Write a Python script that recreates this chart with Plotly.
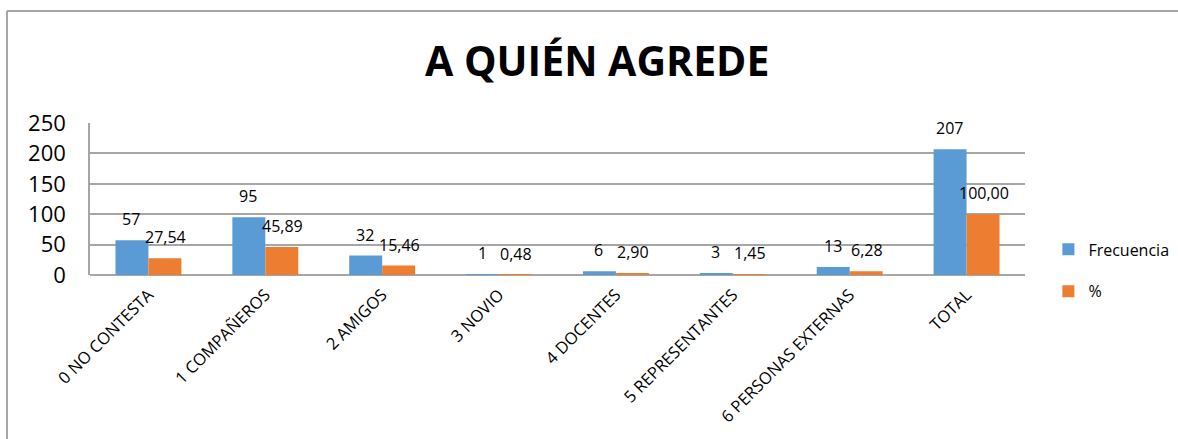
import plotly.graph_objects as go

categories = ["0 NO CONTESTA", "1 COMPAÑEROS", "2 AMIGOS", "3 NOVIO", "4 DOCENTES",
              "5 REPRESENTANTES", "6 PERSONAS EXTERNAS", "TOTAL"]
frecuencia = [57, 95, 32, 1, 6, 3, 13, 207]
porcentaje = [27.54, 45.89, 15.46, 0.48, 2.90, 1.45, 6.28, 100.00]
freq_labels = [str(v) for v in frecuencia]
pct_labels = [f"{v:.2f}".replace(".", ",") for v in porcentaje]

FONT = "Open Sans"
BLUE = "#5b9bd5"
ORANGE = "#ed7d31"

fig = go.Figure()
fig.add_trace(go.Bar(x=categories, y=frecuencia, name="Frecuencia", marker_color=BLUE,
                     marker_line_width=0, legendgroup="a"))
fig.add_trace(go.Bar(x=categories, y=porcentaje, name="%", marker_color=ORANGE,
                     marker_line_width=0, legendgroup="b"))

annotations = []
for c, v, t in zip(categories, frecuencia, freq_labels):
    annotations.append(dict(x=c, y=v, text=t, showarrow=False, xshift=-17, yshift=21,
                            font=dict(family=FONT, size=16, color="#000")))
for c, v, t in zip(categories, porcentaje, pct_labels):
    annotations.append(dict(x=c, y=v, text=t, showarrow=False, xshift=17, yshift=21,
                            font=dict(family=FONT, size=16, color="#000")))

fig.update_layout(
    width=1178, height=439,
    margin=dict(l=90, r=153, t=123, b=164, autoexpand=False),
    paper_bgcolor="white", plot_bgcolor="white",
    barmode="group", bargap=0.436, bargroupgap=0,
    title=dict(text="<b>A QUIÉN AGREDE</b>", x=0.507, xanchor="center", y=0.86, yanchor="middle",
               font=dict(family=FONT, size=41, color="#000")),
    font=dict(family=FONT, color="#000"),
    legend=dict(x=1.025, y=0.03, xanchor="left", yanchor="middle",
                font=dict(family=FONT, size=16, color="#000"),
                traceorder="grouped", tracegroupgap=18, itemwidth=30),
    annotations=annotations,
    xaxis=dict(tickangle=-45, tickfont=dict(family=FONT, size=16.5, color="#000"),
               showline=False, showgrid=False, ticks="", automargin=False,
               ticklabelstandoff=6),
    yaxis=dict(range=[0, 250], dtick=50, showgrid=True, gridcolor="#a6a6a6", gridwidth=1.5,
               zeroline=True, zerolinecolor="#a6a6a6", zerolinewidth=1.5,
               showline=True, linecolor="#a6a6a6", linewidth=1.5, automargin=False,
               tickfont=dict(family=FONT, size=22, color="#000"), ticklabelstandoff=18),
    shapes=[
        dict(type="line", xref="paper", yref="paper", x0=-0.0888, x1=1.2, y0=1.737, y1=1.737,
             line=dict(color="#a6a6a6", width=2)),
        dict(type="line", xref="paper", yref="paper", x0=-0.0888, x1=-0.0888, y0=1.737, y1=-1.2,
             line=dict(color="#a6a6a6", width=2)),
    ],
)

fig.write_html("out.html", config={"displayModeBar": False},
               post_script="document.body.style.margin='0';")
